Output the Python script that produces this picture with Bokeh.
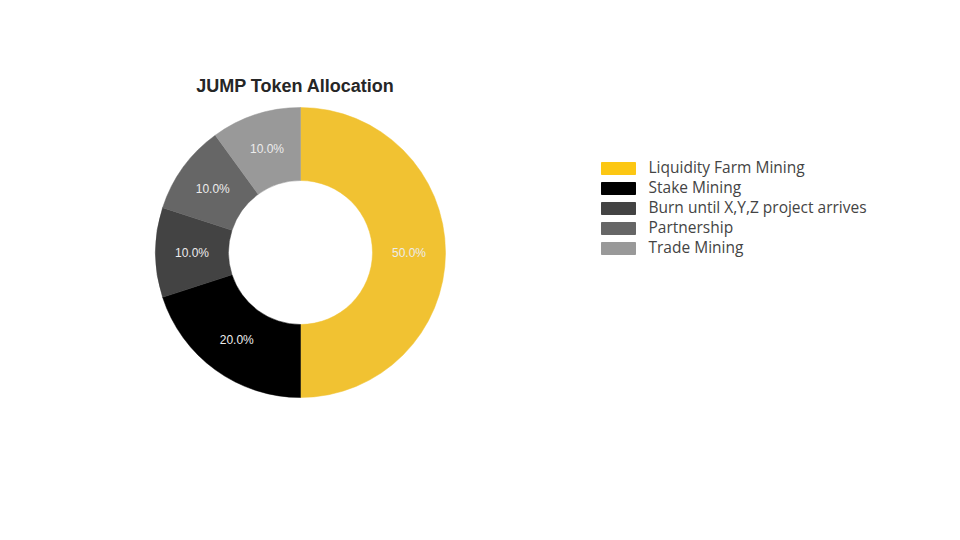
import numpy as np
from bokeh.plotting import figure
from bokeh.models import ColumnDataSource
from bokeh.core.properties import value
from bokeh.embed import file_html
from bokeh.resources import INLINE

categories = ["Liquidity Farm Mining", "Stake Mining", "Burn until X,Y,Z project arrives",
              "Partnership", "Trade Mining"]
shares = [50.0, 20.0, 10.0, 10.0, 10.0]
colors = ["#f1c232", "#000000", "#434343", "#666666", "#999999"]
legend_colors = ["#fcc713", "#000000", "#434343", "#666666", "#999999"]
title_text = "JUMP Token Allocation"

W, H = 960, 540
cx, cy = 300, H - 252
r_out, r_in = 145, 72

vals = np.array(shares)
frac = vals / vals.sum()
cum_end = np.cumsum(frac) * 2 * np.pi
cum_start = cum_end - frac * 2 * np.pi
start = np.pi / 2 - cum_end
end = np.pi / 2 - cum_start
mid = (start + end) / 2
r_lab = (r_out + r_in) / 2

src = ColumnDataSource(dict(
    start=start, end=end, color=colors,
    lx=cx + r_lab * np.cos(mid), ly=cy + r_lab * np.sin(mid),
    lab=[f"{v:.1f}%" for v in frac * 100],
))

p = figure(width=W, height=H, x_range=(0, W), y_range=(0, H),
           output_backend="svg", toolbar_location=None, min_border=0)
p.axis.visible = False
p.grid.visible = False
p.outline_line_color = None
p.background_fill_color = "white"

p.annular_wedge(x=cx, y=cy, inner_radius=r_in, outer_radius=r_out,
                start_angle="start", end_angle="end", direction="anticlock",
                fill_color="color", line_color="color", line_width=0.5,
                source=src)

p.text(x="lx", y="ly", text="lab", source=src, text_align="center",
       text_baseline="middle", text_color="#ececec", text_font_size="12px",
       text_font=value("Liberation Sans"))

p.text(x=[295], y=[H - 85], text=[title_text], text_align="center",
       text_baseline="middle", text_color="#262626", text_font_size="18px",
       text_font_style="bold", text_font=value("Liberation Sans"))

n = len(categories)
ly = [H - (168 + 20 * i) for i in range(n)]
leg = ColumnDataSource(dict(x=[618] * n, y=ly, ty=[v + 1.5 for v in ly], tx=[648] * n,
                            c=legend_colors, t=categories))
p.rect(x="x", y="y", width=34, height=12, fill_color="c", line_color="c", source=leg)
p.text(x="tx", y="ty", text="t", source=leg, text_align="left", text_baseline="middle",
       text_color="#444444", text_font_size="15.5px", text_font=value("Open Sans"))

open("out.html", "w").write(file_html(p, INLINE))
